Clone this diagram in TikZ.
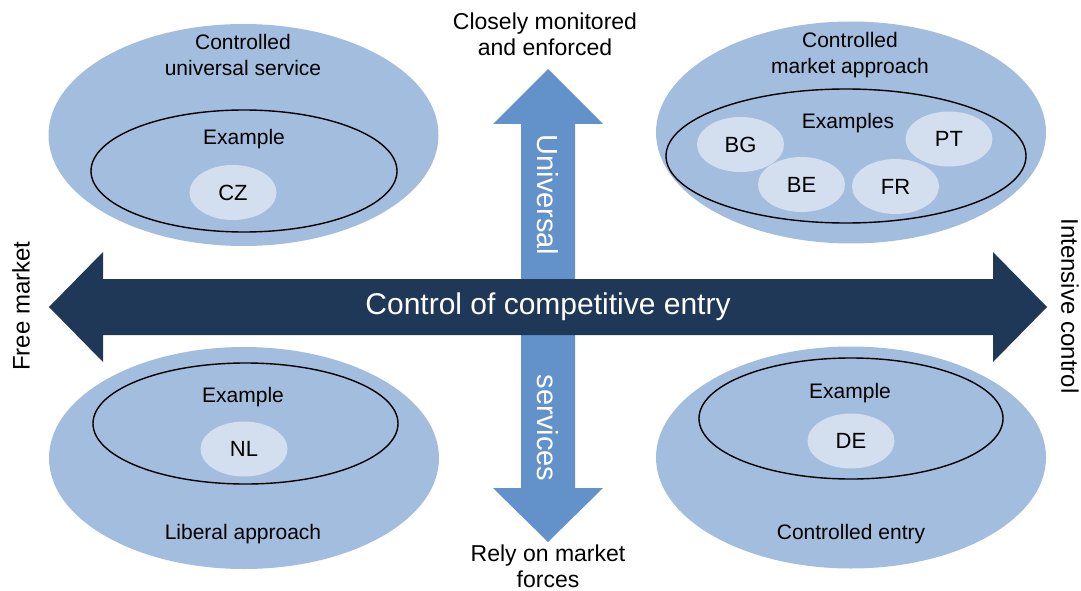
\documentclass[tikz,border=0pt]{standalone}
\usepackage{fontspec}
\setmainfont{Liberation Sans}
\usetikzlibrary{shapes.geometric}
\definecolor{outerfill}{HTML}{A3BDDE}
\definecolor{innerfill}{HTML}{D3DFEF}
\definecolor{vblue}{HTML}{6391C9}
\definecolor{hdark}{HTML}{1F3858}
\begin{document}
\begin{tikzpicture}[x=1pt,y=-1pt,
  outer/.style={ellipse, fill=outerfill, inner sep=0pt, minimum width=390pt, minimum height=222pt},
  ring/.style={ellipse, draw=black, line width=1.4pt, inner sep=0pt},
  country/.style={ellipse, fill=innerfill, inner sep=0pt, minimum width=87pt, minimum height=55pt, font=\fontsize{22}{26}\selectfont},
  lbl/.style={align=center, inner sep=0pt, font=\fontsize{21}{26}\selectfont},
  axl/.style={align=center, inner sep=0pt, font=\fontsize{23}{26}\selectfont},
  side/.style={inner sep=0pt, font=\fontsize{24}{28}\selectfont},
  big/.style={inner sep=0pt, text=white, font=\fontsize{29}{34}\selectfont}]
\useasboundingbox (0,0) rectangle (1081,591);

% outer ellipses
\node[outer] (tl) at (243.5,135) {};
\node[outer] (tr) at (851,132.5) {};
\node[outer] (bl) at (244,458) {};
\node[outer] (br) at (851,457.5) {};

% inner rings
\node[ring, minimum width=306pt, minimum height=122pt] (tlr) at (244,171) {};
\node[ring, minimum width=360pt, minimum height=134pt] (trr) at (846,156) {};
\node[ring, minimum width=305pt, minimum height=121pt] (blr) at (245.5,423.5) {};
\node[ring, minimum width=304pt, minimum height=121pt] (brr) at (851,418.5) {};

% countries
\node[country] (cz) at (233,192.5) {CZ};
\node[country] (bg) at (740.5,144.5) {BG};
\node[country] (pt) at (949,139) {PT};
\node[country] (be) at (801.5,184.5) {BE};
\node[country] (fr) at (895.5,186.5) {FR};
\node[country] (nl) at (244,449) {NL};
\node[country] (de) at (851,441) {DE};

% quadrant labels
\node[lbl] (tlt) at (243,55) {Controlled\\universal service};
\node[lbl] (tre) at (244,139) {Example};
\node[lbl] (trt) at (850,55) {Controlled\\market approach};
\node[lbl] (trx) at (848,123) {Examples};
\node[lbl] (ble) at (243,397) {Example};
\node[lbl] (blt) at (243,534) {Liberal approach};
\node[lbl] (bre) at (850,393) {Example};
\node[lbl] (brt) at (851,534) {Controlled entry};

% vertical arrow
\coordinate (vtop) at (548,69);
\coordinate (vbot) at (548,542);
\fill[vblue] (vtop) -- (603,124) -- (575,124) -- (575,488) -- (603,488) -- (vbot)
  -- (493,488) -- (521,488) -- (521,124) -- (493,124) -- cycle;

% horizontal arrow
\coordinate (hl) at (49,307);
\coordinate (hr) at (1047,307);
\fill[hdark] (hl) -- (103,252) -- (103,279) -- (993,279) -- (993,252) -- (hr)
  -- (993,362) -- (993,335) -- (103,335) -- (103,362) -- cycle;

\node[big, font=\fontsize{30}{34}\selectfont] (cc) at (548,307) {Control of competitive entry};
\node[big, rotate=-90] (uni) at (548,195) {Universal};
\node[big, rotate=-90] (ser) at (548,428) {services};

% axis end labels
\node[axl] (top) at (545,34) {Closely monitored\\and enforced};
\node[axl] (bot) at (548,566) {Rely on market\\forces};
\node[side, rotate=90] (fm) at (21,306) {Free market};
\node[side, rotate=-90] (ic) at (1070,306) {Intensive control};
\end{tikzpicture}
\end{document}
